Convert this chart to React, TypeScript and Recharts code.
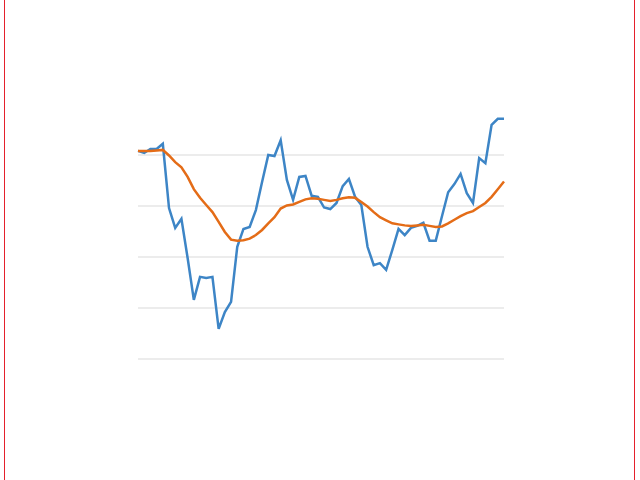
import { LineChart, Line, XAxis, YAxis, ReferenceLine } from 'recharts';

// 60 periods, values (gridlines every 10)
const periods: number[] = Array.from({ length: 60 }, (_, i) => i + 1);

const actual: number[] = [
  40.8, 40.4, 41.2, 41.2, 42.2, 29.6, 25.7, 27.5, 19.8, 11.6,
  16.1, 15.9, 16.1, 5.9, 9.2, 11.2, 22.0, 25.5, 25.9, 29.2,
  34.7, 40.0, 39.8, 42.9, 35.1, 31.2, 35.7, 35.9, 32.0, 31.8,
  29.7, 29.4, 30.6, 33.9, 35.3, 31.8, 30.2, 22.0, 18.4, 18.8,
  17.5, 21.4, 25.5, 24.3, 25.7, 26.1, 26.7, 23.2, 23.2, 28.0,
  32.7, 34.3, 36.3, 32.5, 30.6, 39.4, 38.4, 45.9, 47.1, 47.1,
];

const trend: number[] = [
  40.8, 40.8, 40.8, 40.9, 41.0, 39.9, 38.6, 37.6, 35.7, 33.3,
  31.6, 30.2, 28.8, 26.9, 24.9, 23.4, 23.2, 23.3, 23.6, 24.3,
  25.3, 26.6, 27.8, 29.5, 30.1, 30.3, 30.8, 31.3, 31.5, 31.4,
  31.2, 31.0, 31.2, 31.5, 31.7, 31.6, 30.8, 29.9, 28.8, 27.8,
  27.2, 26.6, 26.4, 26.2, 26.1, 26.2, 26.3, 26.1, 25.9, 26.0,
  26.6, 27.3, 28.0, 28.6, 29.0, 29.8, 30.6, 31.8, 33.3, 34.8,
];

// gridline values (no line at the top of the plot area)
const yTicks: number[] = [0, 10, 20, 30, 40];

const data = periods.map((p, i) => ({ period: p, actual: actual[i], trend: trend[i] }));

export default function App() {
  return (
    <div style={{ position: 'absolute', left: 0, top: 0, width: 640, height: 480, background: '#fff' }}>
      {/* red frame edges */}
      <div style={{
        position: 'absolute', left: 4, top: 0, width: 629, height: 480,
        borderLeft: '1.5px solid #e4202c', borderRight: '1.5px solid #e4202c',
      }} />
      <div style={{ position: 'absolute', left: 0, top: 0 }}>
        <LineChart width={640} height={480} data={data}
          margin={{ top: 104, right: 136, bottom: 121, left: 138 }}>
          <XAxis dataKey="period" hide />
          <YAxis hide domain={[0, 50]} ticks={yTicks} />
          {yTicks.map(v => (
            <ReferenceLine key={v} y={v} stroke="#d9d9d9" strokeWidth={1} ifOverflow="extendDomain" />
          ))}
          <Line type="linear" dataKey="actual" stroke="#3d85c6" strokeWidth={2.5}
            dot={false} isAnimationActive={false} />
          <Line type="linear" dataKey="trend" stroke="#e46c17" strokeWidth={2.5}
            dot={false} isAnimationActive={false} />
        </LineChart>
      </div>
    </div>
  );
}
